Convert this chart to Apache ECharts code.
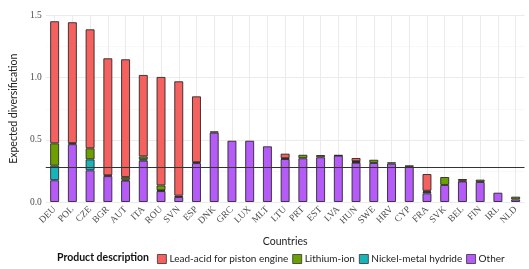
<!DOCTYPE html>
<html><head><meta charset="utf-8">
<script src="https://cdn.jsdelivr.net/npm/echarts@6/dist/echarts.min.js"></script>
<style>html,body{margin:0;padding:0;background:#fff}#c{width:529px;height:269px}</style>
</head><body><div id="c"></div>
<script>
var countries = ['DEU','POL','CZE','BGR','AUT','ITA','ROU','SVN','ESP','DNK','GRC','LUX','MLT','LTU','PRT','EST','LVA','HUN','SWE','HRV','CYP','FRA','SVK','BEL','FIN','IRL','NLD'];
var other = [0.175,0.465,0.255,0.208,0.172,0.333,0.088,0.040,0.313,0.558,0.493,0.493,0.448,0.346,0.352,0.360,0.373,0.316,0.314,0.309,0.287,0.070,0.137,0.166,0.161,0.075,0.021];
var nimh  = [0.117,0,0.088,0,0.008,0.010,0.006,0,0,0,0,0,0,0,0,0,0,0.006,0,0,0,0.012,0,0,0,0,0];
var liion = [0.180,0.008,0.089,0.006,0.020,0.024,0.040,0.011,0.007,0.010,0,0,0,0.006,0.028,0.018,0.004,0.006,0.026,0.010,0.005,0.008,0.064,0.006,0.019,0,0.022];
var lead  = [0.982,0.973,0.957,0.942,0.948,0.655,0.872,0.920,0.530,0,0,0,0,0.037,0,0,0,0.026,0,0,0,0.135,0,0.013,0,0,0];
var seriesNames = ['Lead-acid for piston engine','Lithium-ion','Nickel-metal hydride','Other'];
var refLine = 0.28;

var colors = {'Lead-acid for piston engine':'#F4615E','Lithium-ion':'#6CA000','Nickel-metal hydride':'#19B4B9','Other':'#B55BF8'};
function clean(a){return a.map(function(v){return v===0?'-':v;});}
function mk(name, data){
  return {name:name,type:'bar',stack:'s',data:clean(data),barWidth:9,z:3,
    itemStyle:{color:colors[name],borderColor:'rgba(35,35,35,0.85)',borderWidth:1},
    emphasis:{disabled:true}};
}
var serif = '"Liberation Serif", "DejaVu Serif", serif';
var sans = 'Lato, "Open Sans", sans-serif';
var gridSeries = {name:'_grid',type:'line',data:[],z:0,silent:true,
  markLine:{z:0,silent:true,symbol:'none',label:{show:false},animation:false,
    lineStyle:{color:'#EBEBEB',width:1,type:'solid'},
    data:countries.map(function(c){return {xAxis:c};})}};
var refSeries = {name:'_ref',type:'line',data:[],z:6,silent:true,
  markLine:{z:6,silent:true,symbol:'none',label:{show:false},animation:false,
    lineStyle:{color:'#333',width:1,type:'solid'},data:[{yAxis:refLine}]}};
var chart = echarts.init(document.getElementById('c'),null,{renderer:'canvas'});
chart.setOption({
  animation:false,
  grid:{left:29,right:4.5,top:15.5,bottom:67,containLabel:false},
  legend:{data:seriesNames,left:152,top:249,itemWidth:9,itemHeight:9,itemGap:4,
    icon:'rect',selectedMode:false,
    itemStyle:{borderColor:'#333',borderWidth:0.8},
    textStyle:{fontFamily:sans,fontSize:10,color:'#222',padding:[0,0,0,-2]}},
  graphic:[{type:'text',left:57,top:252,style:{text:'Product description',font:'bold 10.5px '+sans,fill:'#111'}}],
  xAxis:{type:'category',data:countries,
    name:'Countries',nameLocation:'middle',nameGap:34,
    nameTextStyle:{fontFamily:sans,fontSize:10.5,color:'#222'},
    axisLine:{show:false},axisTick:{show:false},
    axisLabel:{rotate:45,margin:6,fontFamily:serif,fontSize:9.5,color:'#4D4D4D',interval:0},
    splitLine:{show:false}},
  yAxis:{type:'value',min:0,max:1.5,interval:0.5,
    name:'Expected diversification',nameLocation:'middle',nameGap:23,
    nameTextStyle:{fontFamily:sans,fontSize:10.5,color:'#222'},
    axisLine:{show:false},axisTick:{show:false},
    axisLabel:{margin:4,fontFamily:serif,fontSize:9.5,color:'#4D4D4D',
      formatter:function(v){return v.toFixed(1);}},
    splitLine:{lineStyle:{color:'#EBEBEB',width:1}},
    minorTick:{show:false,splitNumber:2},
    minorSplitLine:{show:true,lineStyle:{color:'#F4F4F4',width:0.6}}},
  series:[gridSeries, mk('Other', other), mk('Nickel-metal hydride', nimh), mk('Lithium-ion', liion), mk('Lead-acid for piston engine', lead), refSeries]
});
</script></body></html>
